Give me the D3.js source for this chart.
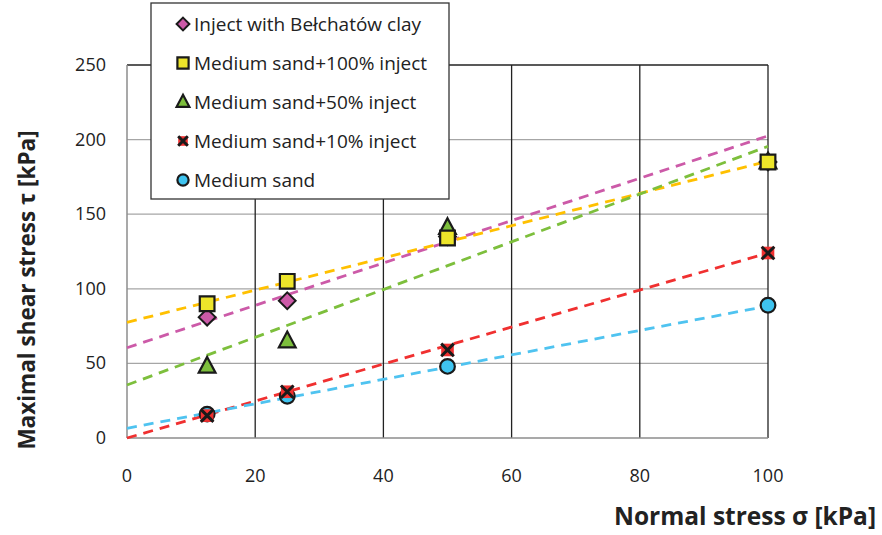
<!DOCTYPE html>
<html>
<head>
	<meta charset="utf-8">
	<title>Shear stress</title>
	<script src="https://cdn.jsdelivr.net/npm/d3@7"></script>
	<style>
		body { margin: 0; background: #fff; }
		text { font-family: "Open Sans", Lato, sans-serif; fill: #222; }
	</style>
</head>
<body>
<script type="text/javascript">
	// normal stress values (kPa)
	var sigma = [12.5, 25, 50, 100];

	var seriesNames = ["Inject with Bełchatów clay", "Medium sand+100% inject", "Medium sand+50% inject",
		"Medium sand+10% inject", "Medium sand"];

	// measured shear stress (kPa)
	var clay = [81, 92, 135, 185];
	var sand100 = [90, 105, 134, 185];
	var sand50 = [48, 65, 141, 185];
	var sand10 = [15, 31, 59, 124];
	var sand = [16, 28, 48, 89];

	// linear trend lines: intercept, slope
	var trendIntercept = [60.5, 77.5, 35.5, 0, 6.5];
	var trendSlope = [1.42, 1.08, 1.6, 1.24, 0.82];

	var xTicks = [0, 20, 40, 60, 80, 100];
	var yTicks = [0, 50, 100, 150, 200, 250];

	var svgWidth = 882, svgHeight = 535;
	var pLeft = 127, pRight = 768, pTop = 65, pBottom = 438;

	var x = d3.scaleLinear().domain([0, 100]).range([pLeft, pRight]);
	var y = d3.scaleLinear().domain([0, 250]).range([pBottom, pTop]);

	var svg = d3.select("body").append("svg")
		.attr("width", svgWidth)
		.attr("height", svgHeight);

	// horizontal grid (grey)
	svg.append("g").selectAll("line")
		.data(yTicks.slice(1, -1))
		.enter().append("line")
		.attr("x1", pLeft).attr("x2", pRight)
		.attr("y1", function(d) { return y(d); })
		.attr("y2", function(d) { return y(d); })
		.attr("stroke", "#a6a6a6").attr("stroke-width", 1.3);

	// vertical grid (dark)
	svg.append("g").selectAll("line")
		.data(xTicks.slice(1))
		.enter().append("line")
		.attr("x1", function(d) { return x(d); })
		.attr("x2", function(d) { return x(d); })
		.attr("y1", pTop).attr("y2", pBottom)
		.attr("stroke", "#222").attr("stroke-width", 1.3);

	// top border
	svg.append("line")
		.attr("x1", pLeft).attr("x2", pRight).attr("y1", pTop).attr("y2", pTop)
		.attr("stroke", "#222").attr("stroke-width", 1.3);

	// axes lines
	svg.append("line")
		.attr("x1", pLeft).attr("x2", pRight).attr("y1", pBottom).attr("y2", pBottom)
		.attr("stroke", "#8c8c8c").attr("stroke-width", 1.5);
	svg.append("line")
		.attr("x1", pLeft).attr("x2", pLeft).attr("y1", pTop).attr("y2", pBottom)
		.attr("stroke", "#8c8c8c").attr("stroke-width", 1.5);

	// tick labels
	svg.append("g").selectAll("text")
		.data(xTicks)
		.enter().append("text")
		.attr("x", function(d) { return x(d); })
		.attr("y", 482)
		.attr("text-anchor", "middle")
		.style("font-size", "18px")
		.text(function(d) { return d; });

	svg.append("g").selectAll("text")
		.data(yTicks)
		.enter().append("text")
		.attr("x", 106)
		.attr("y", function(d) { return y(d) + 6; })
		.attr("text-anchor", "end")
		.style("font-size", "18px")
		.text(function(d) { return d; });

	// axis titles
	svg.append("text")
		.attr("x", 876).attr("y", 525)
		.attr("text-anchor", "end")
		.style("font-size", "24.5px").style("font-weight", "bold")
		.text("Normal stress σ [kPa]");

	svg.append("text")
		.attr("transform", "translate(35,290) rotate(-90)")
		.attr("text-anchor", "middle")
		.style("font-size", "22.5px").style("font-weight", "bold")
		.text("Maximal shear stress τ [kPa]");

	var series = [
		{ name: seriesNames[0], values: clay, shape: "diamond", fill: "#cc5aa8", line: "#cc5aa8" },
		{ name: seriesNames[1], values: sand100, shape: "square", fill: "#ede52a", line: "#ffc000" },
		{ name: seriesNames[2], values: sand50, shape: "triangle", fill: "#7dbf3c", line: "#7dbf3c" },
		{ name: seriesNames[3], values: sand10, shape: "cross", fill: "#f03030", line: "#f03030" },
		{ name: seriesNames[4], values: sand, shape: "circle", fill: "#3fc4f0", line: "#4fc3f0" }
	];

	// trend lines
	series.forEach(function(s, i) {
		svg.append("line")
			.attr("x1", x(0)).attr("y1", y(trendIntercept[i]))
			.attr("x2", x(100)).attr("y2", y(trendIntercept[i] + trendSlope[i] * 100))
			.attr("stroke", s.line).attr("stroke-width", 2.8)
			.attr("stroke-dasharray", "10,7");
	});

	function drawMarker(g, shape, fill, cx, cy, k) {
		if (shape == "diamond") {
			g.append("path").attr("d", "M0,-8L8,0L0,8L-8,0Z")
				.attr("transform", "translate(" + cx + "," + cy + ") scale(" + k + ")")
				.attr("fill", fill).attr("stroke", "#1a1a1a").attr("stroke-width", 2 / k);
		} else if (shape == "square") {
			g.append("path").attr("d", "M-7,-7H7V7H-7Z")
				.attr("transform", "translate(" + cx + "," + cy + ") scale(" + k + ")")
				.attr("fill", fill).attr("stroke", "#1a1a1a").attr("stroke-width", 2.2 / k);
		} else if (shape == "triangle") {
			g.append("path").attr("d", "M0,-9L8,6L-8,6Z")
				.attr("transform", "translate(" + cx + "," + cy + ") scale(" + k + ")")
				.attr("fill", fill).attr("stroke", "#1a1a1a").attr("stroke-width", 2.2 / k);
		} else if (shape == "cross") {
			var c = g.append("g").attr("transform", "translate(" + cx + "," + cy + ") scale(" + k + ")");
			c.append("rect").attr("x", -6).attr("y", -6).attr("width", 12).attr("height", 12)
				.attr("fill", fill);
			c.append("path").attr("d", "M-6,-6L6,6M6,-6L-6,6")
				.attr("stroke", "#1a1a1a").attr("stroke-width", 3 / k);
		} else {
			g.append("circle").attr("cx", cx).attr("cy", cy).attr("r", 7 * k)
				.attr("fill", fill).attr("stroke", "#1a1a1a").attr("stroke-width", 2.2);
		}
	}

	// markers: order chosen so overlapping points look like the reference
	var pts = svg.append("g");
	[4, 3, 0, 2, 1].forEach(function(i) {
		var s = series[i];
		s.values.forEach(function(v, j) {
			drawMarker(pts, s.shape, s.fill, x(sigma[j]), y(v), 1.05);
		});
	});

	// legend
	var leg = svg.append("g");
	leg.append("rect")
		.attr("x", 151).attr("y", 3).attr("width", 298).attr("height", 196)
		.attr("fill", "#fff").attr("stroke", "#333").attr("stroke-width", 1.3);

	series.forEach(function(s, i) {
		var cy = 24 + i * 39;
		drawMarker(leg, s.shape, s.fill, 183, cy, 0.8);
		leg.append("text")
			.attr("x", 194).attr("y", cy + 6.5)
			.style("font-size", "19px")
			.text(s.name);
	});
</script>
</body>
</html>
